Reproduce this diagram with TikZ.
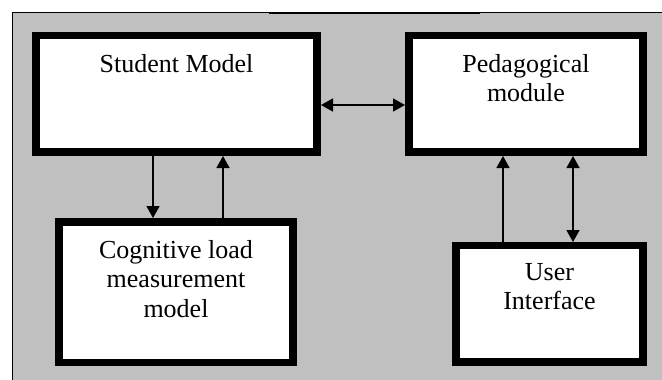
\documentclass[tikz,border=0pt]{standalone}
\usepackage{fontspec}
\setmainfont{Liberation Serif}
\usetikzlibrary{arrows.meta}
\definecolor{bggray}{HTML}{C0C0C0}
\tikzset{
  blk/.style={draw=black, fill=white, line width=7.5pt},
  txt/.style={font=\fontsize{26}{29.5}\selectfont, align=center, inner sep=0pt, anchor=north},
  tip/.tip={Triangle[length=12pt,width=13pt]},
  conn/.style={line width=1.5pt, -tip},
  conn2/.style={line width=1.5pt, tip-tip}
}
\begin{document}
\begin{tikzpicture}[x=1pt,y=-1pt]
\useasboundingbox (0,0) rectangle (662,380);
\fill[bggray] (12,12) rectangle (662,380);
\draw[line width=1pt] (12,380) -- (12,12) -- (662,12);
\draw[line width=2pt] (269,12.5) -- (480,12.5);
% boxes
\path[blk] (36,35.5) rectangle (317,152);
\path[blk] (409,35.5) rectangle (643,152);
\path[blk] (59,222) rectangle (293,362.5);
\path[blk] (456,245.5) rectangle (643,362);
% named end points on the box edges
\coordinate (smB1) at (153,156); \coordinate (clT1) at (153,218);
\coordinate (smB2) at (223,156); \coordinate (clT2) at (223,218);
\coordinate (smR) at (321,105);  \coordinate (pmL) at (405,105);
\coordinate (pmB1) at (503,156); \coordinate (uiT1) at (503,242);
\coordinate (pmB2) at (573,156); \coordinate (uiT2) at (573,242);
% texts
\node[txt] (sm) at (176.5,54) {Student Model};
\node[txt] (pm) at (526,54) {Pedagogical\\module};
\node[txt] (cl) at (176,240) {Cognitive load\\measurement\\model};
\node[txt] (ui) at (549.5,263) {User\\Interface};
% connectors
\draw[conn] (smB1) -- (clT1);
\draw[conn] (clT2) -- (smB2);
\draw[conn2] (smR) -- (pmL);
\draw[conn] (uiT1) -- (pmB1);
\draw[conn2] (pmB2) -- (uiT2);
\end{tikzpicture}
\end{document}
